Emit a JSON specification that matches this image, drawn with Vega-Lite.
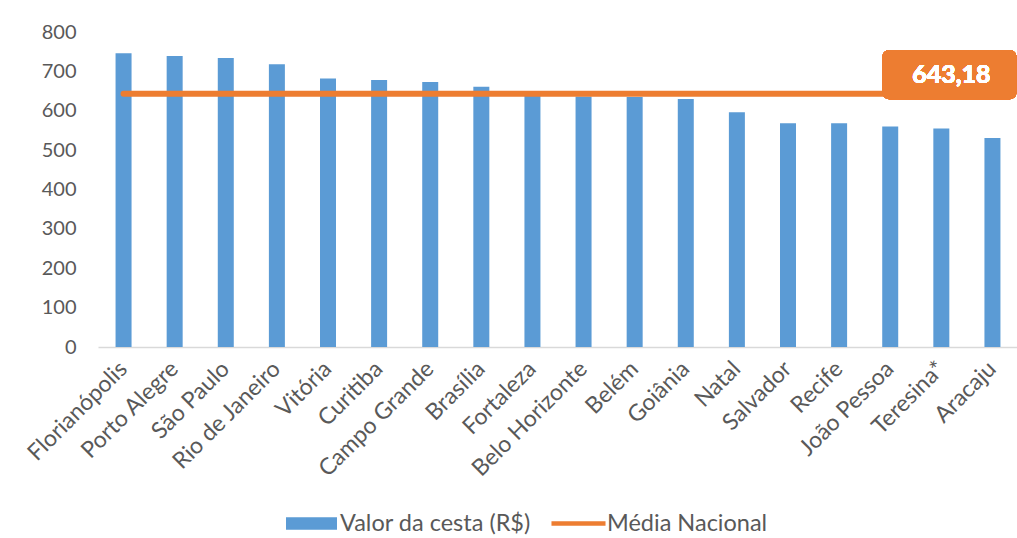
{
  "$schema": "https://vega.github.io/schema/vega-lite/v6.json",
  "width": 920,
  "height": 315,
  "autosize": {"type": "none"},
  "padding": {"left": 98, "top": 32, "right": 0, "bottom": 191},
  "background": "white",
  "config": {
    "view": {"stroke": null},
    "font": "Lato",
    "axis": {"labelFont": "Lato", "labelColor": "#595959", "labelFontSize": 23},
    "axisY": {"labelFontSize": 20, "grid": false, "domain": false, "ticks": false, "labelPadding": 22, "labelOverlap": false, "title": null}
  },
  "data": {
    "values": [
      {"cidade": "Florianópolis", "valor": 746, "media": 643.18},
      {"cidade": "Porto Alegre", "valor": 739, "media": 643.18},
      {"cidade": "São Paulo", "valor": 734, "media": 643.18},
      {"cidade": "Rio de Janeiro", "valor": 718, "media": 643.18},
      {"cidade": "Vitória", "valor": 682, "media": 643.18},
      {"cidade": "Curitiba", "valor": 678, "media": 643.18},
      {"cidade": "Campo Grande", "valor": 673, "media": 643.18},
      {"cidade": "Brasília", "valor": 661, "media": 643.18},
      {"cidade": "Fortaleza", "valor": 638, "media": 643.18},
      {"cidade": "Belo Horizonte", "valor": 636, "media": 643.18},
      {"cidade": "Belém", "valor": 635, "media": 643.18},
      {"cidade": "Goiânia", "valor": 630, "media": 643.18},
      {"cidade": "Natal", "valor": 596, "media": 643.18},
      {"cidade": "Salvador", "valor": 568, "media": 643.18},
      {"cidade": "Recife", "valor": 568, "media": 643.18},
      {"cidade": "João Pessoa", "valor": 560, "media": 643.18},
      {"cidade": "Teresina*", "valor": 555, "media": 643.18},
      {"cidade": "Aracaju", "valor": 531, "media": 643.18}
    ]
  },
  "encoding": {
    "x": {
      "field": "cidade",
      "type": "nominal",
      "sort": null,
      "scale": {"paddingInner": 0, "paddingOuter": 0},
      "axis": {
        "title": null,
        "labelAngle": -45,
        "labelAlign": "right",
        "labelBaseline": "middle",
        "labelPadding": 18,
        "ticks": false,
        "domainColor": "#d9d9d9",
        "domainWidth": 1.5,
        "labelOverlap": false,
        "labelLimit": 300
      }
    }
  },
  "layer": [
    {
      "mark": {"type": "bar", "width": 16},
      "encoding": {
        "y": {
          "field": "valor",
          "type": "quantitative",
          "scale": {"domain": [0, 800]},
          "axis": {"values": [0, 100, 200, 300, 400, 500, 600, 700, 800], "title": null}
        },
        "color": {
          "datum": "Valor da cesta (R$)",
          "type": "nominal",
          "scale": {
            "domain": ["Valor da cesta (R$)", "Média Nacional"],
            "range": ["#5B9BD5", "#ED7D31"]
          },
          "legend": {
            "title": null,
            "orient": "none",
            "legendX": 188,
            "legendY": 466,
            "direction": "horizontal",
            "labelFont": "Lato",
            "labelFontSize": 23.5,
            "labelColor": "#595959",
            "labelLimit": 400,
            "symbolSize": 2600,
            "columnPadding": 20,
            "labelOffset": 3,
            "encode": {
              "symbols": {
                "update": {
                  "shape": {"signal": "datum.value === 'Média Nacional' ? 'M-1.06,-0.09H1.06V0.09H-1.06Z' : 'M-1,-0.25H1V0.25H-1Z'"},
                  "fill": {"signal": "datum.value === 'Média Nacional' ? '#ED7D31' : '#5B9BD5'"},
                  "stroke": {"value": "transparent"},
                  "strokeWidth": {"value": 0},
                  "opacity": {"value": 1}
                }
              }
            }
          }
        }
      }
    },
    {
      "mark": {"type": "line", "strokeWidth": 6, "strokeCap": "round"},
      "encoding": {
        "y": {"field": "media", "type": "quantitative", "axis": {"values": [0, 100, 200, 300, 400, 500, 600, 700, 800], "title": null}},
        "color": {"datum": "Média Nacional", "type": "nominal"}
      }
    },
    {
      "mark": {"type": "bar", "width": 134, "xOffset": -43, "cornerRadius": 7, "color": "#ED7D31"},
      "encoding": {
        "x": {"datum": "Aracaju"},
        "y": {"datum": 754, "axis": {"values": [0, 100, 200, 300, 400, 500, 600, 700, 800], "title": null}},
        "y2": {"datum": 629}
      }
    },
    {
      "mark": {"type": "text", "font": "Lato", "fontSize": 25, "fontWeight": "bold", "color": "white", "xOffset": -41, "baseline": "middle", "align": "center"},
      "encoding": {
        "x": {"datum": "Aracaju"},
        "y": {"datum": 691, "axis": {"values": [0, 100, 200, 300, 400, 500, 600, 700, 800], "title": null}},
        "text": {"datum": "643,18"}
      }
    }
  ],
  "resolve": {"scale": {"color": "shared"}}
}
